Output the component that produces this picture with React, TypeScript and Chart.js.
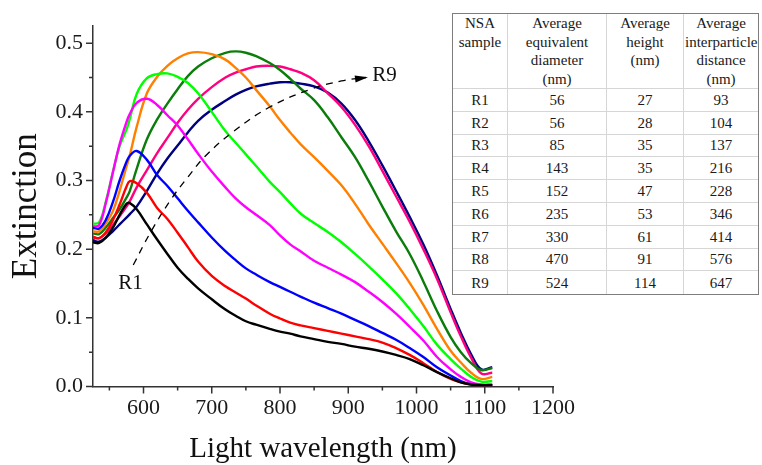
import React, { useEffect, useRef } from 'react';
import { Chart, registerables } from 'chart.js';

Chart.register(...registerables);

const WAVELENGTH = [526, 535, 545, 555, 565, 575, 580, 590, 605, 620, 635, 650, 665, 680, 700, 720, 735, 750, 765, 785, 800, 815, 830, 850, 870, 890, 910, 930, 950, 970, 990, 1010, 1030, 1050, 1065, 1080, 1095, 1111];

const R1 = [0.210, 0.209, 0.217, 0.231, 0.250, 0.266, 0.267, 0.258, 0.236, 0.214, 0.193, 0.173, 0.157, 0.143, 0.127, 0.112, 0.103, 0.095, 0.090, 0.084, 0.080, 0.077, 0.073, 0.069, 0.065, 0.062, 0.058, 0.055, 0.051, 0.046, 0.040, 0.031, 0.021, 0.012, 0.006, 0.003, 0.002, 0.002];
const R2 = [0.218, 0.216, 0.225, 0.242, 0.265, 0.291, 0.299, 0.296, 0.282, 0.260, 0.244, 0.224, 0.203, 0.182, 0.161, 0.146, 0.137, 0.128, 0.118, 0.106, 0.099, 0.093, 0.089, 0.085, 0.081, 0.077, 0.073, 0.069, 0.064, 0.056, 0.046, 0.034, 0.021, 0.011, 0.006, 0.003, 0.002, 0.002];
const R3 = [0.231, 0.230, 0.243, 0.268, 0.300, 0.327, 0.336, 0.343, 0.330, 0.308, 0.292, 0.274, 0.256, 0.239, 0.217, 0.197, 0.184, 0.172, 0.163, 0.152, 0.145, 0.138, 0.131, 0.122, 0.114, 0.106, 0.097, 0.088, 0.078, 0.068, 0.056, 0.043, 0.028, 0.016, 0.008, 0.003, 0.002, 0.002];
const R4 = [0.233, 0.235, 0.268, 0.311, 0.353, 0.385, 0.397, 0.413, 0.419, 0.410, 0.395, 0.380, 0.360, 0.339, 0.313, 0.290, 0.274, 0.261, 0.250, 0.235, 0.220, 0.207, 0.197, 0.183, 0.173, 0.163, 0.152, 0.138, 0.123, 0.106, 0.087, 0.067, 0.043, 0.025, 0.014, 0.006, 0.003, 0.003];
const R5 = [0.237, 0.239, 0.270, 0.312, 0.350, 0.374, 0.390, 0.426, 0.449, 0.455, 0.456, 0.451, 0.442, 0.427, 0.400, 0.372, 0.355, 0.338, 0.321, 0.298, 0.283, 0.267, 0.252, 0.238, 0.225, 0.210, 0.193, 0.175, 0.156, 0.136, 0.113, 0.088, 0.061, 0.040, 0.026, 0.014, 0.007, 0.008];
const R6 = [0.226, 0.226, 0.238, 0.255, 0.285, 0.320, 0.337, 0.378, 0.427, 0.451, 0.467, 0.478, 0.485, 0.487, 0.484, 0.476, 0.464, 0.450, 0.432, 0.408, 0.388, 0.370, 0.353, 0.334, 0.314, 0.293, 0.266, 0.236, 0.208, 0.180, 0.151, 0.119, 0.084, 0.052, 0.035, 0.020, 0.011, 0.014];
const R7 = [0.223, 0.222, 0.232, 0.245, 0.258, 0.275, 0.285, 0.317, 0.360, 0.389, 0.412, 0.433, 0.452, 0.466, 0.478, 0.486, 0.488, 0.486, 0.481, 0.471, 0.461, 0.448, 0.434, 0.417, 0.392, 0.363, 0.334, 0.299, 0.262, 0.226, 0.193, 0.153, 0.110, 0.072, 0.050, 0.034, 0.024, 0.027];
const R8 = [0.217, 0.216, 0.223, 0.235, 0.248, 0.262, 0.270, 0.290, 0.315, 0.340, 0.362, 0.384, 0.403, 0.419, 0.436, 0.450, 0.457, 0.462, 0.466, 0.467, 0.466, 0.462, 0.457, 0.446, 0.427, 0.407, 0.381, 0.350, 0.314, 0.277, 0.240, 0.200, 0.157, 0.108, 0.073, 0.042, 0.019, 0.020];
const R9 = [0.213, 0.211, 0.217, 0.226, 0.236, 0.246, 0.251, 0.262, 0.285, 0.310, 0.332, 0.351, 0.370, 0.387, 0.403, 0.416, 0.425, 0.432, 0.437, 0.441, 0.443, 0.443, 0.441, 0.437, 0.428, 0.412, 0.388, 0.357, 0.322, 0.285, 0.247, 0.207, 0.162, 0.113, 0.078, 0.047, 0.025, 0.028];

const SERIES = [R1, R2, R3, R4, R5, R6, R7, R8, R9];
const SERIES_NAMES = ['R1', 'R2', 'R3', 'R4', 'R5', 'R6', 'R7', 'R8', 'R9'];
const SERIES_COLORS = ['#000000', '#ff0000', '#0000ff', '#ff00ff', '#00ff00', '#ff8000', '#0a7d0a', '#ff0080', '#000080'];

const ARROW_X = [585, 610, 640, 665, 690, 730, 785, 845, 890, 926];
const ARROW_Y = [0.177, 0.224, 0.272, 0.305, 0.335, 0.370, 0.407, 0.433, 0.445, 0.450];

const NOTE_TEXT = ['R1', 'R9'];
const NOTE_X = [581, 953];
const NOTE_Y = [0.150, 0.453];

const X_TICKS = [550, 600, 650, 700, 750, 800, 850, 900, 950, 1000, 1050, 1100, 1150, 1200];
const X_MAJOR = [600, 700, 800, 900, 1000, 1100, 1200];
const Y_TICKS = [0, 0.05, 0.1, 0.15, 0.2, 0.25, 0.3, 0.35, 0.4, 0.45, 0.5];
const Y_MAJOR = [0, 0.1, 0.2, 0.3, 0.4, 0.5];

const TABLE_HEADERS = ['NSA\nsample', 'Average\nequivalent\ndiameter\n(nm)', 'Average\nheight\n(nm)', 'Average\ninterparticle\ndistance\n(nm)'];
const SAMPLES = ['R1', 'R2', 'R3', 'R4', 'R5', 'R6', 'R7', 'R8', 'R9'];
const DIAMETER = [56, 56, 85, 143, 152, 235, 330, 470, 524];
const HEIGHT = [27, 28, 35, 35, 47, 53, 61, 91, 114];
const DISTANCE = [93, 104, 137, 216, 228, 346, 414, 576, 647];

const FONT = "'Liberation Serif', 'Times New Roman', serif";
const AXIS_COLOR = '#333333';

const isMajor = (v: number, list: number[]) => list.some((m) => Math.abs(m - v) < 1e-6);

const decorPlugin = {
  id: 'decor',
  afterDraw(chart: any) {
    const { ctx } = chart;
    const x = chart.scales.x;
    const y = chart.scales.y;
    ctx.save();
    ctx.strokeStyle = AXIS_COLOR;
    ctx.lineWidth = 1.5;
    ctx.beginPath();
    X_TICKS.forEach((v) => {
      const px = x.getPixelForValue(v);
      const len = isMajor(v, X_MAJOR) ? 7 : 4;
      ctx.moveTo(px, y.bottom);
      ctx.lineTo(px, y.bottom + len);
    });
    Y_TICKS.forEach((v) => {
      const py = y.getPixelForValue(v);
      const len = isMajor(v, Y_MAJOR) ? 7 : 4;
      ctx.moveTo(x.left, py);
      ctx.lineTo(x.left - len, py);
    });
    ctx.stroke();

    const meta = chart.getDatasetMeta(SERIES.length);
    const pts = meta.data;
    if (pts.length > 1) {
      const a = pts[pts.length - 2];
      const b = pts[pts.length - 1];
      const ang = Math.atan2(b.y - a.y, b.x - a.x);
      const L = 11;
      const W = 3.6;
      ctx.fillStyle = '#000';
      ctx.beginPath();
      ctx.moveTo(b.x + Math.cos(ang) * 2, b.y + Math.sin(ang) * 2);
      ctx.lineTo(b.x - Math.cos(ang) * L - Math.sin(ang) * W, b.y - Math.sin(ang) * L + Math.cos(ang) * W);
      ctx.lineTo(b.x - Math.cos(ang) * L + Math.sin(ang) * W, b.y - Math.sin(ang) * L - Math.cos(ang) * W);
      ctx.closePath();
      ctx.fill();
    }

    ctx.fillStyle = '#111';
    ctx.font = `21px ${FONT}`;
    ctx.textAlign = 'center';
    ctx.textBaseline = 'middle';
    NOTE_TEXT.forEach((t, i) => {
      ctx.fillText(t, x.getPixelForValue(NOTE_X[i]), y.getPixelForValue(NOTE_Y[i]));
    });
    ctx.restore();
  },
};

export default function App() {
  const ref = useRef<HTMLCanvasElement | null>(null);

  useEffect(() => {
    document.body.style.margin = '0';
    const canvas = ref.current;
    if (!canvas) return;
    const datasets: any[] = SERIES.map((s, i) => ({
      label: SERIES_NAMES[i],
      data: WAVELENGTH.map((w, j) => ({ x: w, y: s[j] })),
      borderColor: SERIES_COLORS[i],
      backgroundColor: SERIES_COLORS[i],
      borderWidth: 2.4,
      pointRadius: 0,
      fill: false,
      tension: 0.4,
    }));
    datasets.push({
      label: 'trend',
      data: ARROW_X.map((w, j) => ({ x: w, y: ARROW_Y[j] })),
      borderColor: '#000',
      borderWidth: 1.3,
      borderDash: [7, 6],
      pointRadius: 0,
      fill: false,
      tension: 0.4,
      order: -1,
    });

    const chart = new Chart(canvas, {
      type: 'line',
      data: { datasets },
      options: {
        animation: false,
        responsive: false,
        devicePixelRatio: 1,
        layout: { padding: { left: 0, top: 26, right: 209, bottom: 0 } },
        plugins: { legend: { display: false }, tooltip: { enabled: false } },
        scales: {
          x: {
            type: 'linear',
            min: 526,
            max: 1200,
            afterBuildTicks: (axis: any) => {
              axis.ticks = X_TICKS.map((value) => ({ value }));
            },
            afterFit: (axis: any) => {
              axis.height = 78.5;
            },
            ticks: {
              autoSkip: false,
              maxRotation: 0,
              padding: 2,
              color: '#1a1a1a',
              font: { family: FONT, size: 22 },
              callback: (v: any) => (isMajor(Number(v), X_MAJOR) ? String(v) : ''),
            },
            grid: { display: true, drawOnChartArea: false, drawTicks: true, tickLength: 7, color: 'rgba(0,0,0,0)' },
            border: { display: true, color: AXIS_COLOR, width: 1.5 },
            title: {
              display: true,
              text: 'Light wavelength (nm)',
              color: '#111',
              font: { family: FONT, size: 29, lineHeight: 1 },
              padding: { top: 0, bottom: 1 },
            },
          },
          y: {
            type: 'linear',
            min: 0,
            max: 0.525,
            afterBuildTicks: (axis: any) => {
              axis.ticks = Y_TICKS.map((value) => ({ value }));
            },
            afterFit: (axis: any) => {
              axis.width = 93;
            },
            ticks: {
              autoSkip: false,
              padding: 3,
              color: '#1a1a1a',
              font: { family: FONT, size: 22 },
              callback: (v: any) => (isMajor(Number(v), Y_MAJOR) ? Number(v).toFixed(1) : ''),
            },
            grid: { display: true, drawOnChartArea: false, drawTicks: true, tickLength: 7, color: 'rgba(0,0,0,0)' },
            border: { display: true, color: AXIS_COLOR, width: 1.5 },
            title: {
              display: true,
              text: 'Extinction',
              color: '#111',
              font: { family: FONT, size: 35, lineHeight: 1 },
              padding: { top: 9, bottom: 0 },
            },
          },
        },
      },
      plugins: [decorPlugin],
    } as any);
    return () => chart.destroy();
  }, []);

  const colW = [55, 99, 77, 74];
  const cell = (ci: number, last: boolean): React.CSSProperties => ({
    width: colW[ci],
    boxSizing: 'border-box',
    borderRight: ci < 3 ? '1px solid #d6d6d6' : 'none',
    borderBottom: last ? 'none' : '1px solid #d6d6d6',
    textAlign: 'center',
    padding: '0 1px',
  });

  return (
    <div style={{ position: 'relative', width: 762, height: 465, overflow: 'hidden' }}>
      <canvas ref={ref} width={762} height={465} style={{ position: 'absolute', left: 0, top: 0, width: 762, height: 465 }} />
      <table
        style={{
          position: 'absolute',
          left: 452,
          top: 13,
          width: 307,
          boxSizing: 'border-box',
          borderCollapse: 'separate',
          borderSpacing: 0,
          border: '1px solid #7d7d7d',
          background: '#fff',
          fontFamily: FONT,
          fontSize: 15,
          color: '#1a1a1a',
          tableLayout: 'fixed',
        }}
      >
        <tbody>
          <tr style={{ height: 74 }}>
            {TABLE_HEADERS.map((h, ci) => (
              <td key={ci} style={{ ...cell(ci, false), verticalAlign: 'top', lineHeight: '18.5px', paddingTop: 0 }}>
                {h.split('\n').map((line, li) => (
                  <div key={li}>{line}</div>
                ))}
              </td>
            ))}
          </tr>
          {SAMPLES.map((s, ri) => {
            const last = ri === SAMPLES.length - 1;
            const vals = [s, String(DIAMETER[ri]), String(HEIGHT[ri]), String(DISTANCE[ri])];
            return (
              <tr key={s} style={{ height: 22.8 }}>
                {vals.map((v, ci) => (
                  <td key={ci} style={{ ...cell(ci, last), verticalAlign: 'middle', lineHeight: '18px' }}>
                    {v}
                  </td>
                ))}
              </tr>
            );
          })}
        </tbody>
      </table>
    </div>
  );
}
